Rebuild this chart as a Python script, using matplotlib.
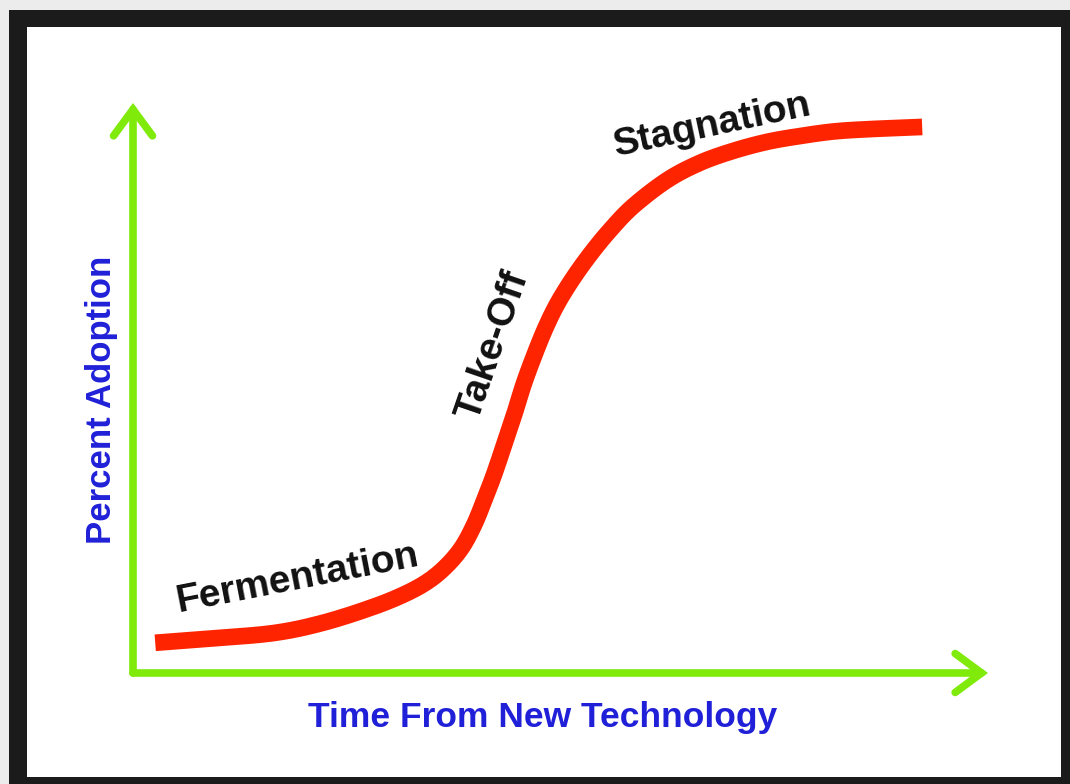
import numpy as np
import matplotlib.pyplot as plt
from matplotlib.patches import Rectangle

# S-curve (time %, adoption %)
time = [2.6, 8.7, 16.4, 22.2, 28.1, 32.0, 34.7, 36.8, 38.5, 39.9, 41.0, 42.2,
        43.4, 44.6, 45.7, 46.9, 48.2, 49.6, 51.4, 53.5, 55.8, 58.5, 62.5,
        66.3, 70.2, 74.2, 78.0, 81.9, 85.9, 92.3]
adoption = [5.3, 6.0, 7.0, 8.8, 11.6, 14.0, 16.3, 19.0, 22.1, 26.0, 30.0, 34.7,
            40.0, 45.4, 50.7, 55.6, 60.4, 64.7, 69.1, 73.5, 77.7, 81.9, 86.5,
            89.5, 91.6, 93.2, 94.2, 95.0, 95.4, 95.8]

phases = ["Fermentation", "Take-Off", "Stagnation"]
phase_x = [19.2, 42.1, 67.8]
phase_y = [16.6, 57.4, 96.1]
phase_rot = [11, 71, 12]

xlabel = "Time From New Technology"
ylabel = "Percent Adoption"


def smooth(xs, ys, n=12):
    # catmull-rom through the read points, only to draw a round line
    p = np.column_stack([xs, ys])
    p = np.vstack([p[0], p, p[-1]])
    out = []
    for i in range(1, len(p) - 2):
        p0, p1, p2, p3 = p[i - 1], p[i], p[i + 1], p[i + 2]
        for t in np.linspace(0, 1, n, endpoint=False):
            out.append(0.5 * (2 * p1 + (-p0 + p2) * t
                              + (2 * p0 - 5 * p1 + 4 * p2 - p3) * t ** 2
                              + (-p0 + 3 * p1 - 3 * p2 + p3) * t ** 3))
    out.append(p[-2])
    out = np.array(out)
    return out[:, 0], out[:, 1]


W, H = 1070, 784
fig = plt.figure(figsize=(W / 100, H / 100), dpi=100)
fig.patch.set_facecolor("#ececec")

# frame
bg = fig.add_axes([0, 0, 1, 1])
bg.set_xlim(0, W)
bg.set_ylim(H, 0)
bg.axis("off")
bg.add_patch(Rectangle((9, 10), W - 9, H - 10, color="#1b1b1b", lw=0))
bg.add_patch(Rectangle((27, 27), 1034, 750, color="white", lw=0))

x0, x1, y0, y1 = 133, 988, 673, 103
ax = fig.add_axes([x0 / W, (H - y0) / H, (x1 - x0) / W, (y0 - y1) / H])
ax.set_xlim(0, 100)
ax.set_ylim(0, 100)
ax.axis("off")

green = "#80ea0a"
arrow = dict(arrowstyle="->,head_length=0.95,head_width=0.7", color=green,
             lw=5.5, mutation_scale=20, capstyle="round", joinstyle="miter",
             shrinkA=0, shrinkB=0)
ax.annotate("", xy=(0, 1), xytext=(0, 0), xycoords="axes fraction",
            arrowprops=arrow)
ax.annotate("", xy=(1, 0), xytext=(0, 0), xycoords="axes fraction",
            arrowprops=arrow)

sx, sy = smooth(time, adoption)
ax.plot(sx, sy, color="#ff2400", lw=12, solid_capstyle="butt",
        solid_joinstyle="round")

for t, xx, yy, r in zip(phases, phase_x, phase_y, phase_rot):
    ax.text(xx, yy, t, rotation=r, ha="center", va="center",
            fontsize=28, fontweight="bold", family="Liberation Sans",
            color="#111111", rotation_mode="anchor")

fig.text(543 / W, 1 - 718 / H, xlabel, ha="center", va="center",
         fontsize=25.5, fontweight="bold", family="Liberation Sans",
         color="#2020d8")
fig.text(101 / W, 1 - 400 / H, ylabel, ha="center", va="center",
         rotation=90, fontsize=25, fontweight="bold",
         family="Liberation Sans", color="#2020d8")

fig.savefig("out.png", dpi=100, facecolor=fig.get_facecolor())
